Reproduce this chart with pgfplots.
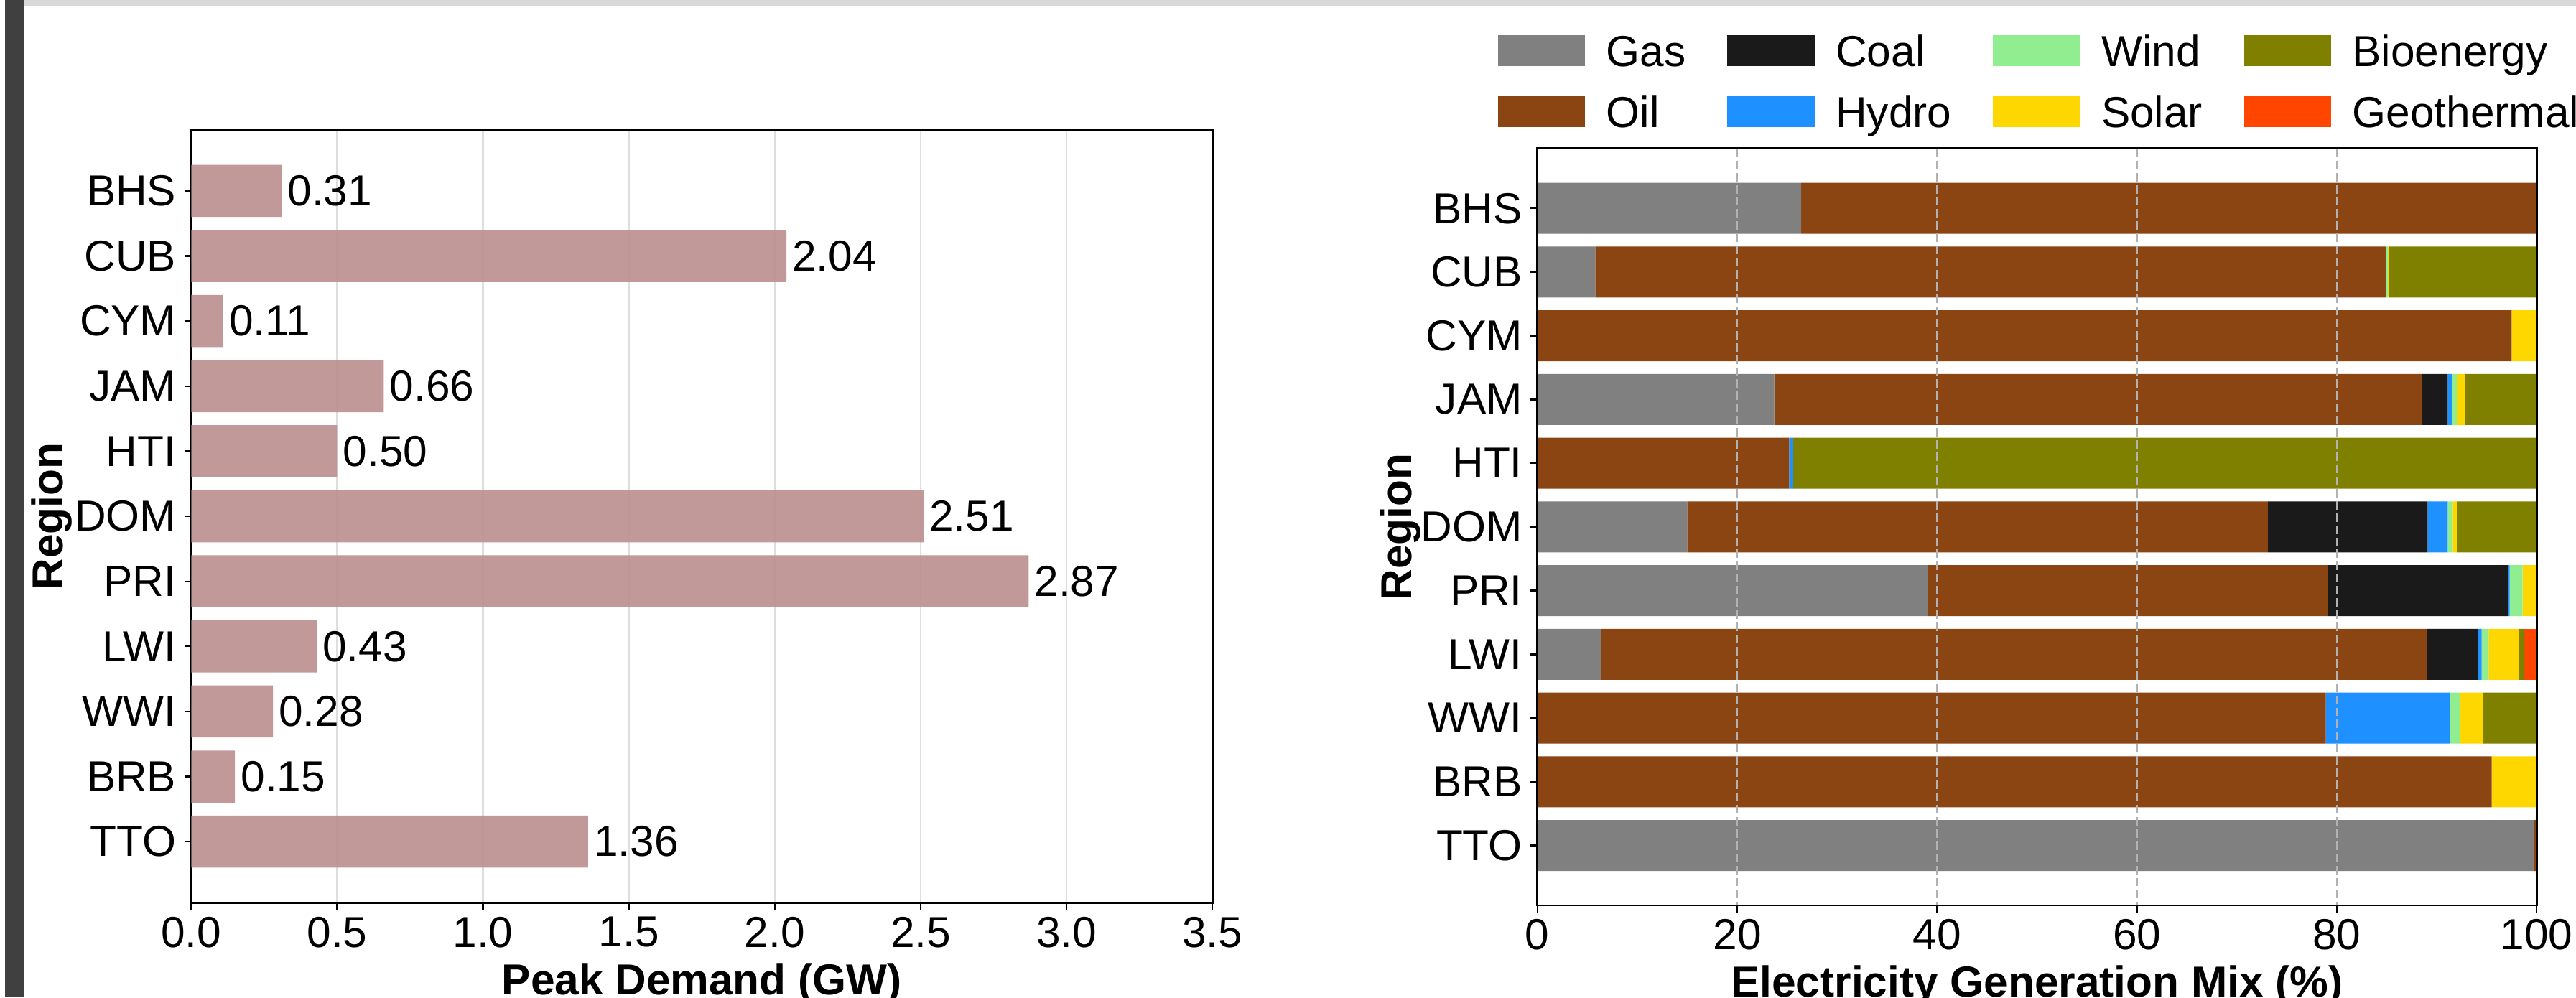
\documentclass[border=0pt]{standalone}
\usepackage{pgfplots}
\pgfplotsset{compat=1.18}
\usepackage{pgfplotstable}
\usepackage{fontspec}
\setmainfont{Liberation Sans}
\definecolor{cGas}{HTML}{808080}
\definecolor{cOil}{HTML}{8B4513}
\definecolor{cCoal}{HTML}{1A1A1A}
\definecolor{cHydro}{HTML}{1E90FF}
\definecolor{cWind}{HTML}{90EE90}
\definecolor{cSolar}{HTML}{FFD700}
\definecolor{cBio}{HTML}{808000}
\definecolor{cGeo}{HTML}{FF4500}
\definecolor{cRosy}{HTML}{BC8F8F}
\newcommand\myf{\fontsize{13.2}{15.8}\selectfont}

\pgfplotstableread{
idx val
0 0.31
1 2.04
2 0.11
3 0.66
4 0.50
5 2.51
6 2.87
7 0.43
8 0.28
9 0.15
10 1.36
}\peak

\pgfplotstableread{
idx gas oil coal hydro wind solar bio geo
0 26.4 73.6 0 0 0 0 0 0
1 5.8 79.1 0 0 0.2 0.1 14.8 0
2 0 97.5 0 0 0 2.5 0 0
3 23.7 64.8 2.6 0.4 0.5 0.8 7.2 0
4 0 25.2 0 0.4 0 0 74.4 0
5 15.0 58.1 16.0 2.0 0.5 0.4 8.0 0
6 39.1 40.0 18.0 0.2 1.3 1.4 0 0
7 6.4 82.6 5.1 0.4 0.7 3.0 0.6 1.2
8 0 78.9 0 12.4 1.0 2.3 5.4 0
9 0 95.5 0 0 0 4.5 0 0
10 99.7 0.3 0 0 0 0 0 0
}\mix

\pgfplotsset{
  common/.style={
    scale only axis,
    ymin=-0.94, ymax=10.94, y dir=reverse,
    ytick={0,...,10},
    yticklabels={BHS,CUB,CYM,JAM,HTI,DOM,PRI,LWI,WWI,BRB,TTO},
    tick pos=left, tick align=outside, major tick length=2.1pt,
    every tick/.style={black, line width=0.5pt},
    axis line style={line width=0.6pt},
    tick label style={font=\myf, inner sep=0pt},
    xticklabel style={yshift=-2pt},
    yticklabel style={xshift=-2.3pt},
    label style={font=\myf\bfseries, inner sep=0pt},
    xlabel style={at={(axis description cs:0.5,0)}, anchor=north, yshift=-18.2pt},
  }
}

\begin{document}
\myf
\begin{tikzpicture}
\useasboundingbox (0,0) rectangle (784pt,303.6pt);
\fill[white] (0,0) rectangle (784pt,303.6pt);
\fill[black!75] (1.5pt,0) rectangle (7.3pt,303.6pt);
\fill[black!15] (7.3pt,301.85pt) rectangle (784pt,303.6pt);

\begin{axis}[
  common,
  at={(58.2pt,28.8pt)}, anchor=south west,
  width=310.8pt, height=235.3pt,
  xbar, bar width=0.8,
  xmin=0, xmax=3.5,
  xtick={0,0.5,...,3.5},
  xticklabels={0.0,0.5,1.0,1.5,2.0,2.5,3.0,3.5},
  xmajorgrids, grid style={color=black!13, line width=0.5pt},
  xlabel={Peak Demand (GW)}, ylabel={Region},
  ylabel style={at={(axis description cs:-0.1258,0.5)}, anchor=base},
  nodes near coords,
  nodes near coords style={font=\myf, anchor=west, inner xsep=1.6pt, inner ysep=0pt,
    /pgf/number format/.cd, fixed, zerofill, precision=2, assume math mode=true},
]
\addplot[fill=cRosy, fill opacity=0.9, draw=none, text opacity=1] table[x=val, y=idx] {\peak};
\end{axis}

\begin{axis}[
  common,
  at={(467.9pt,28.0pt)}, anchor=south west,
  width=304.1pt, height=230.4pt,
  xbar stacked, bar width=0.8,
  xmin=0, xmax=100,
  xtick={0,20,...,100},
  xticklabels={0,20,40,60,80,100},
  xmajorgrids, grid style={color=black!30, line width=0.5pt, dash pattern=on 2.6pt off 1.1pt},
  axis on top,
  xlabel={Electricity Generation Mix (\%)}, ylabel={Region},
  ylabel style={at={(axis description cs:-0.1263,0.5)}, anchor=base},
  legend columns=4,
  legend style={at={(axis description cs:-0.0394,1.1498)}, anchor=north west,
    draw=none, fill=none, inner sep=0pt, outer sep=0pt, font=\myf,
    column sep=6.5pt, row sep=9pt,
    /tikz/every even column/.append style={column sep=12.6pt},
    nodes={anchor=base west, inner sep=0pt, outer sep=0pt, text height=9.5pt, text depth=0pt},
    cells={anchor=base west, inner sep=0pt, outer sep=0pt, text height=9.5pt, text depth=0pt}},
  legend image code/.code={\fill[#1, draw=none] (0pt,0pt) rectangle (26.5pt,9.5pt);},
]
\addlegendimage{fill=cGas}\addlegendentry{Gas}
\addlegendimage{fill=cCoal}\addlegendentry{Coal}
\addlegendimage{fill=cWind}\addlegendentry{Wind}
\addlegendimage{fill=cBio}\addlegendentry{Bioenergy}
\addlegendimage{fill=cOil}\addlegendentry{Oil}
\addlegendimage{fill=cHydro}\addlegendentry{Hydro}
\addlegendimage{fill=cSolar}\addlegendentry{Solar}
\addlegendimage{fill=cGeo}\addlegendentry{Geothermal}
\addplot[fill=cGas, draw=none, forget plot] table[x=gas, y=idx] {\mix};
\addplot[fill=cOil, draw=none, forget plot] table[x=oil, y=idx] {\mix};
\addplot[fill=cCoal, draw=none, forget plot] table[x=coal, y=idx] {\mix};
\addplot[fill=cHydro, draw=none, forget plot] table[x=hydro, y=idx] {\mix};
\addplot[fill=cWind, draw=none, forget plot] table[x=wind, y=idx] {\mix};
\addplot[fill=cSolar, draw=none, forget plot] table[x=solar, y=idx] {\mix};
\addplot[fill=cBio, draw=none, forget plot] table[x=bio, y=idx] {\mix};
\addplot[fill=cGeo, draw=none, forget plot] table[x=geo, y=idx] {\mix};
\end{axis}
\end{tikzpicture}
\end{document}
